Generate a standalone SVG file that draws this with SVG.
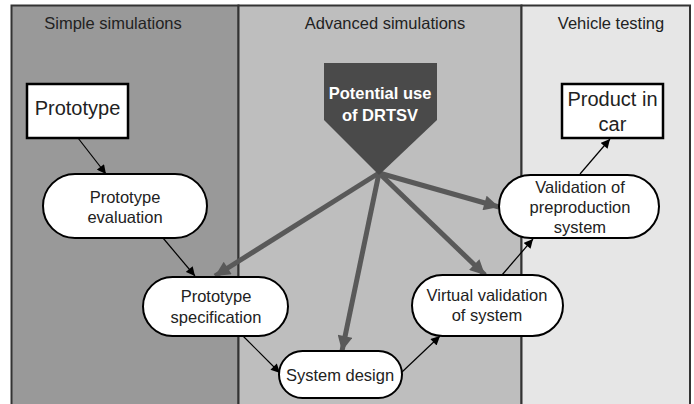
<svg xmlns="http://www.w3.org/2000/svg" width="694" height="404" viewBox="0 0 694 404">
<style>
text{font-family:"Liberation Sans",Arial,sans-serif;fill:#222;text-anchor:middle}
.hdr{font-size:16.5px}
.nt{font-size:16.5px}
.big{font-size:20px}
.pill{fill:#fff;stroke:#000;stroke-width:2}
.box{fill:#fff;stroke:#000;stroke-width:2.5}
.thin{stroke:#000;stroke-width:1.2;fill:none;marker-end:url(#ah)}
.thick{stroke:#595959;stroke-width:5;fill:none;marker-end:url(#ahb)}
.lane{stroke:#333;stroke-width:2}
</style>
<defs>
<marker id="ah" viewBox="0 0 10 10" refX="10" refY="5" markerWidth="10" markerHeight="9" markerUnits="userSpaceOnUse" orient="auto"><path d="M0,0 L10,5 L0,10 z" fill="#000"/></marker>
<marker id="ahb" viewBox="0 0 10 10" refX="10" refY="5" markerWidth="17" markerHeight="15" markerUnits="userSpaceOnUse" orient="auto"><path d="M0,0 L10,5 L0,10 z" fill="#595959"/></marker>
</defs>
<g id="lanes">
<rect x="11.5" y="5.5" width="227" height="410" fill="#999999" class="lane"/>
<rect x="238.5" y="5.5" width="283" height="410" fill="#bebebe" class="lane"/>
<rect x="521.5" y="5.5" width="168.5" height="410" fill="#e6e6e6" class="lane"/>
<text class="hdr" x="113" y="29">Simple simulations</text>
<text class="hdr" x="385" y="29">Advanced simulations</text>
<text class="hdr" x="611" y="29">Vehicle testing</text>
</g>
<g id="connectors">
<line class="thin" x1="78" y1="138" x2="106" y2="174"/>
<line class="thin" x1="163" y1="238" x2="195" y2="276"/>
<line class="thin" x1="243" y1="336" x2="280" y2="373"/>
<line class="thin" x1="402" y1="372" x2="440" y2="336"/>
<line class="thin" x1="502" y1="275" x2="533" y2="239"/>
<line class="thin" x1="580" y1="174" x2="610" y2="139"/>
<line class="thick" x1="379" y1="173" x2="215" y2="276"/>
<line class="thick" x1="379" y1="173" x2="342" y2="351"/>
<line class="thick" x1="379" y1="173" x2="485" y2="275"/>
<line class="thick" x1="379" y1="173" x2="499" y2="207"/>
</g>
<g id="potential">
<path d="M324,63 L437,63 L437,120 L379,175 L324,120 z" fill="#4a4a4a"/>
<text x="380" y="99" style="font-size:16.5px;font-weight:bold;fill:#fff">Potential use</text>
<text x="380" y="121" style="font-size:16.5px;font-weight:bold;fill:#fff">of DRTSV</text>
</g>
<g id="prototype">
<rect class="box" x="27" y="84" width="101" height="54"/>
<text class="big" x="77.5" y="115">Prototype</text>
</g>
<g id="product">
<rect class="box" x="562" y="84" width="101" height="54"/>
<text class="big" x="612.5" y="106">Product in</text>
<text class="big" x="612.5" y="131">car</text>
</g>
<g id="evaluation">
<rect class="pill" x="43" y="174" width="164" height="64" rx="32"/>
<text class="nt" x="125" y="203">Prototype</text>
<text class="nt" x="125" y="223">evaluation</text>
</g>
<g id="specification">
<rect class="pill" x="143" y="277" width="145" height="59" rx="29.5"/>
<text class="nt" x="216" y="302">Prototype</text>
<text class="nt" x="216" y="323">specification</text>
</g>
<g id="design">
<rect class="pill" x="279" y="351" width="123" height="47" rx="23.5"/>
<text class="nt" x="340" y="381">System design</text>
</g>
<g id="virtual">
<rect class="pill" x="412" y="275" width="151" height="61" rx="30.5"/>
<text class="nt" x="487" y="301">Virtual validation</text>
<text class="nt" x="487" y="321">of system</text>
</g>
<g id="preproduction">
<rect class="pill" x="499" y="175" width="160" height="63" rx="31.5"/>
<text class="nt" x="580" y="193">Validation of</text>
<text class="nt" x="580" y="213">preproduction</text>
<text class="nt" x="580" y="233">system</text>
</g>
</svg>
